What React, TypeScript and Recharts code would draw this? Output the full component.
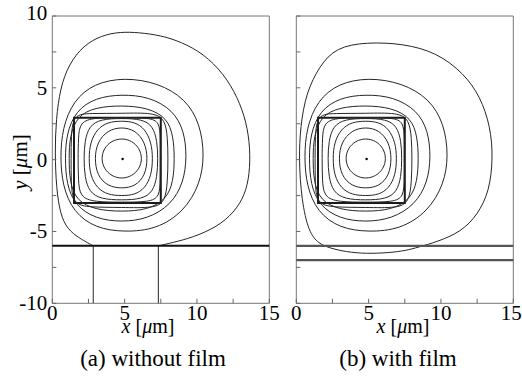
import React from 'react';
import { ComposedChart, Line, XAxis, YAxis, ReferenceArea, ReferenceLine, ReferenceDot } from 'recharts';

const FONT = '"Liberation Serif", "Times New Roman", serif';

// ---- axes ----
const xTicks = [0, 2.5, 5, 7.5, 10, 12.5, 15];
const yTicks = [-10, -7.5, -5, -2.5, 0, 2.5, 5, 7.5, 10];
const xDomain = [0, 15];
const yDomain = [-10, 10];
const panelTitles = ['(a) without film', '(b) with film'];

// ---- structures ----
const coreX = [1.5, 7.5];
const coreY = [-3.02, 2.92];
const modeCenter = [4.86, 0.05];
const substrateLineA = -6;
const filmLinesB = [-6, -7];
const stemXA = [2.83, 7.33];
const stemYA = [-6, -10];

// ---- contour lines (x, y in µm) ----
const contourJ = [[6.22,0.08],[6.03,0.79],[5.51,1.31],[4.8,1.5],[4.09,1.31],[3.57,0.79],[3.38,0.08],[3.57,-0.63],[4.09,-1.15],[4.8,-1.34],[5.51,-1.15],[6.03,-0.63]];
const contourI = [[6.6,0.08],[6.42,1.2],[5.75,2.05],[4.8,2.28],[3.82,2.05],[3.1,1.2],[2.92,0.08],[3.1,-1.1],[3.82,-1.85],[4.8,-2.02],[5.75,-1.85],[6.42,-1.1]];
const contourH = [[6.95,0.08],[6.85,1.2],[6.4,2.15],[5.7,2.62],[4.8,2.7],[3.85,2.62],[3.1,2.15],[2.62,1.2],[2.52,0.08],[2.62,-1.1],[3.1,-2.0],[3.85,-2.45],[4.8,-2.52],[5.7,-2.45],[6.4,-2.0],[6.85,-1.1]];
const contourG = [[7.3,0.08],[7.25,1.3],[6.95,2.35],[6.2,2.82],[4.8,2.88],[3.35,2.82],[2.55,2.35],[2.24,1.3],[2.18,0.08],[2.24,-1.2],[2.55,-2.25],[3.35,-2.75],[4.8,-2.82],[6.2,-2.75],[6.95,-2.25],[7.25,-1.2]];
const contourF = [[7.46,0.08],[7.46,1.5],[7.42,2.62],[6.7,2.92],[4.8,2.93],[2.9,2.92],[1.9,2.62],[1.8,1.5],[1.78,0.08],[1.8,-1.4],[1.9,-2.6],[2.9,-2.95],[4.8,-2.96],[6.7,-2.95],[7.42,-2.6],[7.46,-1.4]];
const contourE = [[8.0,0.08],[7.97,1.5],[7.8,2.8],[7.0,3.28],[4.8,3.22],[2.6,3.22],[1.45,3.15],[1.3,1.6],[1.3,0.08],[1.3,-1.5],[1.4,-3.1],[2.6,-3.32],[4.8,-3.32],[7.0,-3.38],[7.8,-2.95],[7.97,-1.5]];
const contourD = [[8.45,0.1],[8.37,1.6],[7.95,2.9],[6.6,3.62],[4.8,3.78],[3.0,3.65],[1.72,3.05],[1.2,1.6],[1.15,0.1],[1.2,-1.5],[1.65,-2.85],[3.0,-3.5],[4.8,-3.62],[6.6,-3.5],[7.9,-2.75],[8.37,-1.5]];
const contourC = [[9.3,0.2],[9.12,2.0],[8.35,3.45],[6.7,4.38],[4.8,4.55],[3.0,4.32],[1.62,3.4],[0.98,1.8],[0.88,0.1],[0.98,-1.7],[1.58,-3.2],[3.0,-4.12],[4.8,-4.35],[6.6,-4.12],[8.2,-3.15],[9.08,-1.6]];
const contourB = [[10.52,0.3],[10.22,2.5],[9.2,4.25],[7.3,5.35],[5.0,5.72],[2.9,5.32],[1.45,4.1],[0.7,2.2],[0.55,0.2],[0.7,-1.8],[1.45,-3.65],[3.0,-4.78],[5.0,-5.05],[7.2,-4.85],[9.1,-3.62],[10.22,-1.7]];

// outermost contour, panel (a): open, ends on the substrate line
const outerA = [[2.83,-6.0],[2.5,-5.82],[1.85,-5.45],[1.05,-4.85],[0.55,-3.8],[0.28,-2.0],[0.18,0.5],[0.26,2.8],[0.55,5.0],[1.15,6.65],[2.15,7.95],[3.4,8.65],[4.7,8.9],[6.0,8.85],[7.5,8.65],[8.9,8.2],[10.45,7.38],[11.85,5.98],[12.82,4.32],[13.42,2.62],[13.68,0.8],[13.64,-1.0],[13.32,-2.47],[12.56,-3.68],[11.4,-4.68],[9.7,-5.42],[8.3,-5.78],[7.33,-6.0]];
// outermost contour, panel (b): closed
const outerB = [[13.6,0.15],[13.42,2.3],[12.72,4.4],[11.56,6.02],[9.72,7.45],[7.4,8.08],[4.86,8.18],[2.75,7.82],[1.6,6.52],[0.68,4.65],[0.28,2.3],[0.18,0.0],[0.36,-2.8],[0.85,-5.05],[1.55,-5.85],[2.3,-6.15],[3.43,-6.42],[4.82,-6.55],[6.43,-6.48],[7.58,-6.33],[8.4,-6.1],[9.74,-5.72],[11.38,-5.03],[12.52,-3.86],[13.35,-2.2]];

const innerContours = [contourB, contourC, contourD, contourE, contourF, contourG, contourH, contourI, contourJ];

const toPts = (a: number[][]) => a.map(([x, y]) => ({ x, y }));

const TICK_COLOR = '#666';
const CONTOUR_COLOR = '#262626';

const makeYTick = (showLabel: boolean) => (props: any) => {
  const { x, y, payload } = props;
  const v = payload.value;
  const major = Math.abs(v % 5) < 1e-6;
  const dy = v === 10 ? -3 : 0;
  return (
    <g>
      <line x1={x} x2={x + 4} y1={y} y2={y} stroke={TICK_COLOR} strokeWidth={1} />
      {showLabel && major ? (
        <text
          x={x - 5}
          y={y + dy}
          textAnchor="end"
          dominantBaseline="central"
          style={{ fontFamily: FONT }}
          fontSize={21}
          fill="#000"
        >
          {v}
        </text>
      ) : null}
    </g>
  );
};

const makeXTick = (lastShift: number) => (props: any) => {
  const { x, y, payload } = props;
  const v = payload.value;
  const major = Math.abs(v % 5) < 1e-6;
  const dx = v === 15 ? lastShift : 0;
  return (
    <g>
      <line x1={x} x2={x} y1={y} y2={y - 4.5} stroke={TICK_COLOR} strokeWidth={1} />
      {major ? (
        <text x={x + dx} y={y + 17} textAnchor="middle" style={{ fontFamily: FONT }} fontSize={21} fill="#000">
          {v}
        </text>
      ) : null}
    </g>
  );
};

const XCaption = (props: any) => {
  const { labelX, titleX, title } = props;
  return (
    <g>
      <text x={labelX} y={333} textAnchor="middle" style={{ fontFamily: FONT }} fontSize={20} fill="#000">
        <tspan fontStyle="italic">x</tspan>
        {' ['}
        <tspan fontStyle="italic">{'\u03bc'}</tspan>
        {'m]'}
      </text>
      <text x={titleX} y={366} textAnchor="middle" style={{ fontFamily: FONT }} fontSize={23} fill="#000">
        {title}
      </text>
    </g>
  );
};

const YCaption = () => (
  <text
    x={20}
    y={162}
    transform="rotate(-90, 20, 162)"
    textAnchor="middle"
    dominantBaseline="central"
    style={{ fontFamily: FONT }}
    fontSize={21}
    fill="#000"
  >
    <tspan fontStyle="italic">y</tspan>
    {' ['}
    <tspan fontStyle="italic">{'\u03bc'}</tspan>
    {'m]'}
  </text>
);

type PanelProps = {
  width: number;
  yAxisWidth: number;
  rightMargin: number;
  showYLabels: boolean;
  withFilm: boolean;
  labelX: number;
  titleX: number;
  title: string;
  lastShift: number;
};

const lineCommon = {
  dataKey: 'y',
  stroke: CONTOUR_COLOR,
  strokeWidth: 1,
  dot: false,
  activeDot: false,
  isAnimationActive: false,
  legendType: 'none' as const,
};

function Panel({ width, yAxisWidth, rightMargin, showYLabels, withFilm, labelX, titleX, title, lastShift }: PanelProps) {
  return (
    <ComposedChart
      width={width}
      height={377}
      margin={{ top: 16, right: rightMargin, bottom: 0, left: 0 }}
      style={{ fontFamily: FONT }}
    >
      <XAxis
        type="number"
        dataKey="x"
        domain={xDomain}
        ticks={xTicks}
        interval={0}
        allowDataOverflow
        axisLine={false}
        tickLine={false}
        tickSize={0}
        tickMargin={0}
        tick={makeXTick(lastShift)}
        height={73.7}
        label={<XCaption labelX={labelX} titleX={titleX} title={title} />}
      />
      <YAxis
        type="number"
        domain={yDomain}
        ticks={yTicks}
        interval={0}
        allowDataOverflow
        axisLine={false}
        tickLine={false}
        tickSize={0}
        tickMargin={0}
        tick={makeYTick(showYLabels)}
        width={yAxisWidth}
        label={showYLabels ? <YCaption /> : undefined}
      />
      <ReferenceArea
        x1={xDomain[0]}
        x2={xDomain[1]}
        y1={yDomain[0]}
        y2={yDomain[1]}
        fill="none"
        stroke="#777"
        strokeWidth={1}
      />
      {innerContours.map((c, i) => (
        <Line key={'c' + i} data={toPts(c)} type="basisClosed" {...lineCommon} />
      ))}
      {withFilm ? (
        <Line data={toPts(outerB)} type="basisClosed" {...lineCommon} />
      ) : (
        <Line data={toPts(outerA)} type="basis" {...lineCommon} />
      )}
      {!withFilm
        ? stemXA.map((sx, i) => (
            <Line key={'s' + i} data={stemYA.map((sy) => ({ x: sx, y: sy }))} type="linear" {...lineCommon} />
          ))
        : null}
      {withFilm ? (
        filmLinesB.map((ly, i) => <ReferenceLine key={'f' + i} y={ly} stroke="#555" strokeWidth={2.2} />)
      ) : (
        <ReferenceLine y={substrateLineA} stroke="#111" strokeWidth={2} />
      )}
      <ReferenceArea
        x1={coreX[0]}
        x2={coreX[1]}
        y1={coreY[0]}
        y2={coreY[1]}
        fill="none"
        stroke="#1a1a1a"
        strokeWidth={2}
      />
      <ReferenceDot x={modeCenter[0]} y={modeCenter[1]} r={1.2} fill="#000" stroke="none" />
    </ComposedChart>
  );
}

export default function App() {
  return (
    <div
      style={{
        position: 'absolute',
        left: 0,
        top: 0,
        width: 522,
        height: 377,
        background: '#fff',
        overflow: 'hidden',
        fontFamily: FONT,
      }}
    >
      <div style={{ position: 'absolute', left: 0, top: 0 }}>
        <Panel
          width={282}
          yAxisWidth={52.3}
          rightMargin={12.7}
          showYLabels={true}
          withFilm={false}
          labelX={148}
          titleX={153}
          title={panelTitles[0]}
          lastShift={0}
        />
      </div>
      <div style={{ position: 'absolute', left: 270, top: 0 }}>
        <Panel
          width={252}
          yAxisWidth={26.3}
          rightMargin={8.7}
          showYLabels={false}
          withFilm={true}
          labelX={133}
          titleX={128}
          title={panelTitles[1]}
          lastShift={-2}
        />
      </div>
    </div>
  );
}
